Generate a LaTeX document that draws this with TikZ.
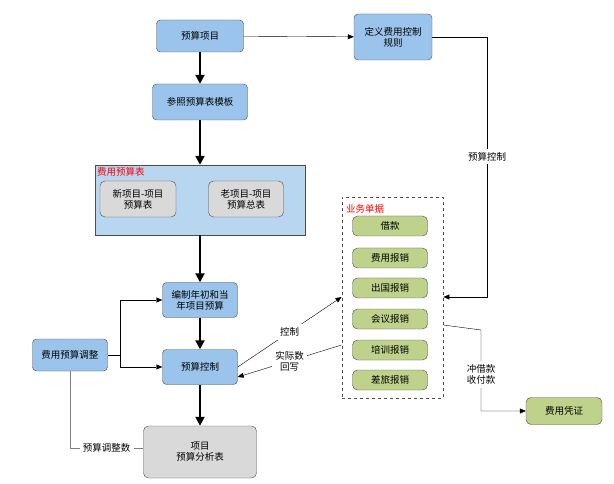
\documentclass[tikz,border=0pt]{standalone}
\usepackage{fontspec}
\setmainfont{Noto Sans CJK SC}
\usetikzlibrary{arrows.meta,positioning}
\definecolor{boxblue}{RGB}{155,196,236}
\definecolor{panelblue}{RGB}{184,214,240}
\definecolor{boxgreen}{RGB}{190,210,140}
\begin{document}
\begin{tikzpicture}
  [
    x=1pt, y=-1pt, font=\fontsize{9.5}{11}\selectfont,
    Blue/.style={rectangle, rounded corners=4pt, draw=black!70, fill=boxblue, align=center, minimum height=32pt},
    Gray/.style={rectangle, rounded corners=5pt, draw=black!70, fill=gray!30, align=center},
    Green/.style={rectangle, rounded corners=5pt, draw=black!70, fill=boxgreen, minimum width=75pt, minimum height=20pt},
    Thick/.style={-{Triangle[length=9pt,width=9pt]}, line width=2pt},
    Thin/.style={-{Triangle[length=6pt,width=5pt]}, thin}
  ]
  \useasboundingbox (0,0) rectangle (614,484);
  % Nodes
  \node[Blue, minimum width=87pt] (proj) at (200,36) {预算项目};
  \node[Blue, minimum width=78pt, minimum height=46pt] (rule) at (393,37) {定义费用控制\\规则};
  \node[Blue, minimum width=95pt, minimum height=36pt] (tmpl) at (200,102) {参照预算表模板};
  \node[draw=black!70, fill=panelblue, minimum width=210pt, minimum height=70pt] (table) at (200,200) {};
  \node[red, anchor=west, inner sep=1pt] (tabletitle) at (96,172) {费用预算表};
  \node[Gray, minimum width=76pt, minimum height=36pt] (newp) at (138,199) {新项目-项目\\预算表};
  \node[Gray, minimum width=75pt, minimum height=36pt] (oldp) at (246,199) {老项目-项目\\预算总表};
  \node[Blue, minimum width=75pt, minimum height=35pt] (make) at (200,300) {编制年初和当\\年项目预算};
  \node[Blue, minimum width=75pt, minimum height=35pt] (ctrl) at (200,367) {预算控制};
  \node[Blue, minimum width=75pt] (adj) at (70,355) {费用预算调整};
  \node[Gray, minimum width=113pt, minimum height=52pt] (ana) at (200,452) {项目\\预算分析表};

  \node[draw=black!70, dashed, thick, minimum width=101pt, minimum height=201pt] (docs) at (392.5,297.5) {};
  \node[red, anchor=west, inner sep=1pt] (docstitle) at (345,209) {业务单据};
  \node[Green] (g1) at (390,226) {借款};
  \node[Green] (g2) at (390,258) {费用报销};
  \node[Green] (g3) at (390,288) {出国报销};
  \node[Green] (g4) at (390,319) {会议报销};
  \node[Green] (g5) at (390,350) {培训报销};
  \node[Green] (g6) at (390,380) {差旅报销};
  \node[Green, minimum width=76pt, minimum height=27pt] (vouch) at (564,411) {费用凭证};

  % Lines
  \draw[Thick] (proj) -- (tmpl);
  \draw[Thick] (tmpl) -- (table);
  \draw[Thick] (table) -- (make);
  \draw[Thick] (make) -- (ctrl);
  \draw[Thick] (ctrl) -- (ana);
  \draw[Thin] (proj) -- (rule);
  \draw[Thin] (rule.east) -| (487,297) node[pos=0.73, fill=white] {预算控制} -- (docs.east |- 0,297);
  \draw[Thin] (adj.east) -- (120,355) |- (make.west);
  \draw[Thin] (120,355) |- (ctrl.west);
  \draw[gray, thick] (adj.south) -- (70,448) -- (ana.west |- 0,448) node[midway, fill=white, text=black] {预算调整数};
  \draw[Thin] (ctrl.east) -- (docs.west |- 0,297) node[pos=0.5, fill=white] {控制};
  \draw[Thin] (docs.west |- 0,345) -- (ctrl.east |- 0,377) node[pos=0.5, fill=white, align=center] {实际数\\回写};
  \draw[Thin] (docs.east |- 0,325) -- (481,330) -- (481,411) node[pos=0.55, fill=white, align=center] {冲借款\\收付款} -- (vouch.west);
\end{tikzpicture}
\end{document}
